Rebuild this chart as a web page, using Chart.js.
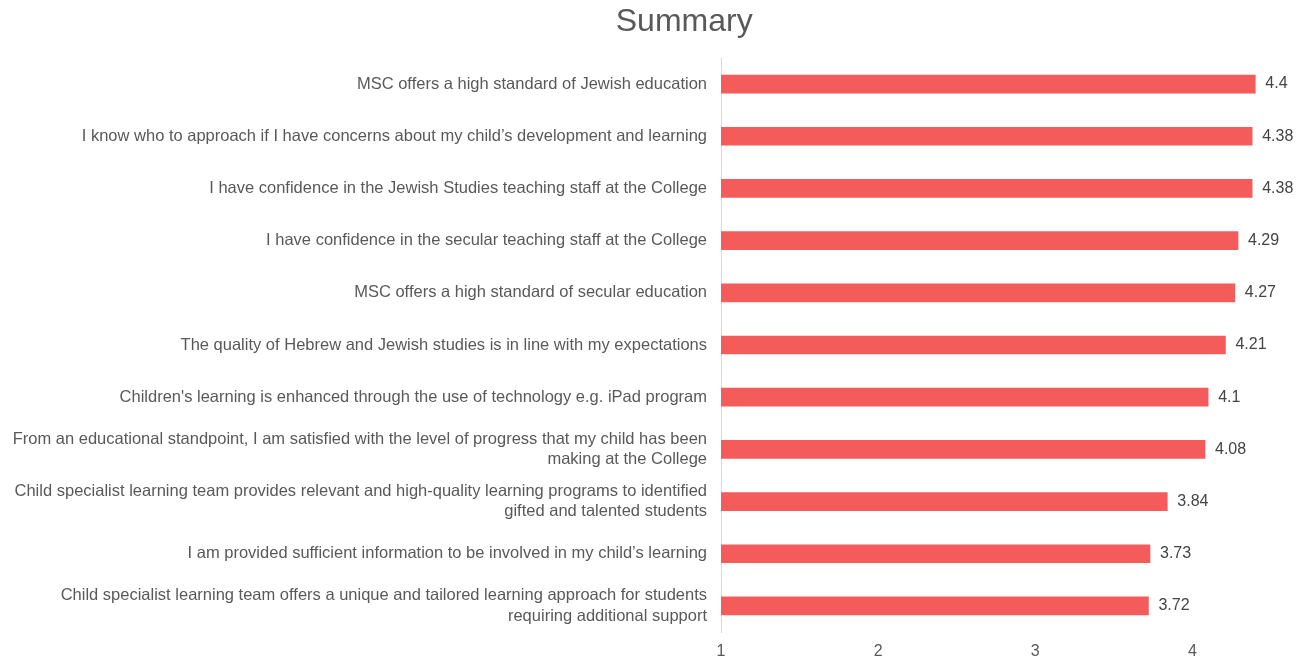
<!DOCTYPE html>
<html>
<head>
<meta charset="utf-8">
<script src="https://cdn.jsdelivr.net/npm/chart.js@4"></script>
<style>
  body { margin: 0; background: #fff; }
  #wrap { width: 1307px; height: 660px; }
</style>
</head>
<body>
<div id="wrap"><canvas id="summaryChart"></canvas></div>
<script>
// survey questions (multi-line ones as arrays)
const questions = [
    'MSC offers a high standard of Jewish education',
    'I know who to approach if I have concerns about my child\u2019s development and learning',
    'I have confidence in the Jewish Studies teaching staff at the College',
    'I have confidence in the secular teaching staff at the College',
    'MSC offers a high standard of secular education',
    'The quality of Hebrew and Jewish studies is in line with my expectations',
    'Children\'s learning is enhanced through the use of technology e.g. iPad program',
    ['From an educational standpoint, I am satisfied with the level of progress that my child has been', 'making at the College'],
    ['Child specialist learning team provides relevant and high-quality learning programs to identified', 'gifted and talented students'],
    'I am provided sufficient information to be involved in my child\u2019s learning',
    ['Child specialist learning team offers a unique and tailored learning approach for students', 'requiring additional support']
];
const scores = [4.4, 4.38, 4.38, 4.29, 4.27, 4.21, 4.1, 4.08, 3.84, 3.73, 3.72];
const xTicks = [1, 2, 3, 4];
const chartTitle = 'Summary';

const textColor = '#595959';
const fontFamily = '"Liberation Sans", Arial, sans-serif';

// draws the score to the right of each bar
const valueLabels = {
    id: 'valueLabels',
    afterDatasetsDraw(chart) {
        const ctx = chart.ctx;
        const meta = chart.getDatasetMeta(0);
        ctx.save();
        ctx.font = '16px ' + fontFamily;
        ctx.fillStyle = '#444';
        ctx.textAlign = 'left';
        ctx.textBaseline = 'middle';
        meta.data.forEach((bar, i) => {
            ctx.fillText(String(scores[i]), bar.x + 10, bar.y);
        });
        ctx.restore();
    }
};

// title sits a bit right of the canvas centre, like the original sheet chart
const titleText = {
    id: 'titleText',
    afterDraw(chart) {
        const ctx = chart.ctx;
        ctx.save();
        ctx.font = '32px ' + fontFamily;
        ctx.fillStyle = textColor;
        ctx.textAlign = 'center';
        ctx.textBaseline = 'middle';
        ctx.fillText(chartTitle, chart.width * 0.5235, 22);
        ctx.restore();
    }
};

const ctx = document.querySelector('#summaryChart').getContext('2d');
const chart = new Chart(ctx, {
    type: 'bar',
    data: {
        labels: questions,
        datasets: [{
            label: 'Score',
            data: scores,
            backgroundColor: '#f45b5b',
            borderWidth: 0,
            barThickness: 18
        }]
    },
    options: {
        indexAxis: 'y',
        responsive: true,
        maintainAspectRatio: false,
        animation: false,
        layout: {
            padding: { left: 4, right: 36, top: 58, bottom: 0 }
        },
        scales: {
            x: {
                min: 1,
                max: 4.5,
                afterBuildTicks: (scale) => {
                    scale.ticks = xTicks.map(v => ({ value: v }));
                },
                afterFit: (scale) => { scale.height = 28; },
                grid: { display: false, drawTicks: false },
                border: { display: false },
                ticks: {
                    color: textColor,
                    padding: 10,
                    font: { family: fontFamily, size: 16 }
                }
            },
            y: {
                afterFit: (scale) => { scale.width = 717; },
                grid: { display: false, drawTicks: false },
                border: { display: true, color: '#d9d9d9', width: 1 },
                ticks: {
                    color: textColor,
                    padding: 14,
                    autoSkip: false,
                    font: { family: fontFamily, size: 16.5, lineHeight: 1.22 }
                }
            }
        },
        plugins: {
            legend: { display: false },
            tooltip: { enabled: false },
            title: { display: false }
        }
    },
    plugins: [valueLabels, titleText]
});
</script>
</body>
</html>
